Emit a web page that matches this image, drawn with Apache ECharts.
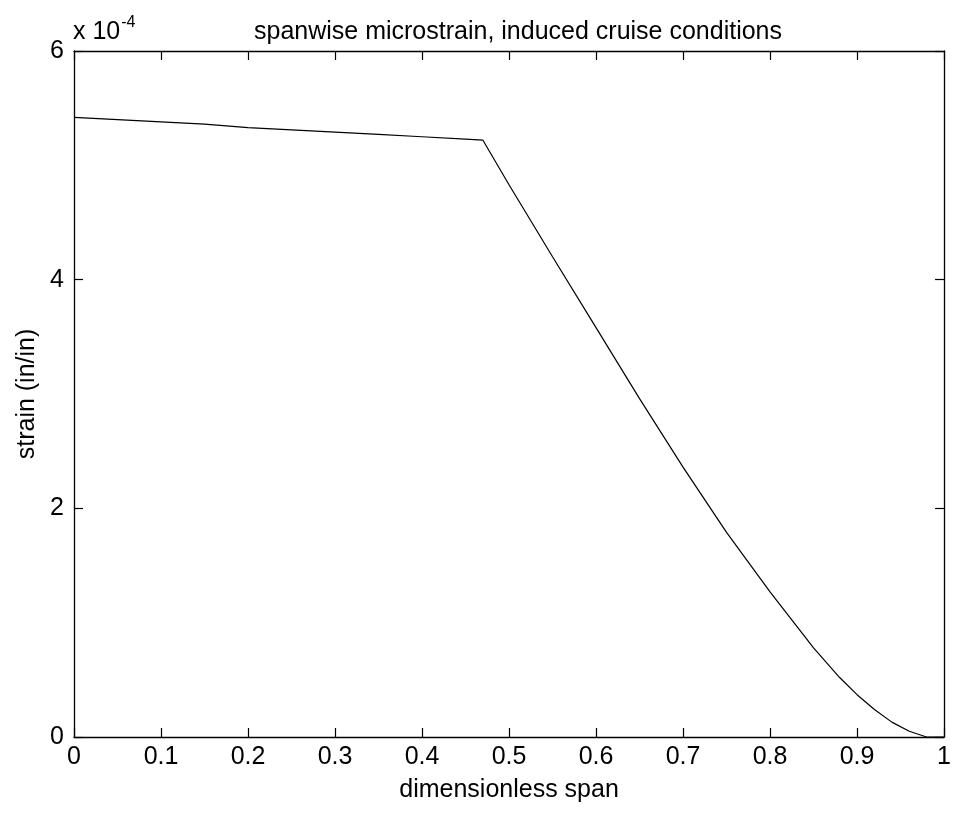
<!DOCTYPE html>
<html>
<head>
<meta charset="utf-8">
<script src="https://cdn.jsdelivr.net/npm/echarts@6/dist/echarts.min.js"></script>
<style>
html,body{margin:0;padding:0;background:#fff;}
#c{width:954px;height:813px;}
</style>
</head>
<body>
<div id="c"></div>
<script>
// dimensionless span positions
var spanX = [0, 0.05, 0.1, 0.15, 0.2, 0.25, 0.3, 0.35, 0.4, 0.45, 0.47, 0.5, 0.55, 0.6, 0.65, 0.7, 0.75, 0.8, 0.85, 0.88, 0.9, 0.92, 0.94, 0.96, 0.98, 1.0];
// strain values in units of 1e-4 in/in
var strainE4 = [5.42, 5.40, 5.38, 5.36, 5.33, 5.31, 5.29, 5.27, 5.25, 5.23, 5.22, 4.83, 4.20, 3.58, 2.96, 2.36, 1.79, 1.27, 0.78, 0.52, 0.37, 0.24, 0.13, 0.05, 0.0, 0.0];
var xTicks = ['0','0.1','0.2','0.3','0.4','0.5','0.6','0.7','0.8','0.9','1'];
var yTicks = ['0','2','4','6'];

var pts = spanX.map(function(x,i){return [x, strainE4[i]];});
var font = 'Liberation Sans, Arial, Helvetica, sans-serif';
var chart = echarts.init(document.getElementById('c'));
var axLine = {show:true, onZero:false, lineStyle:{color:'#000', width:1.3}};
var tick = {show:true, inside:true, length:9, lineStyle:{color:'#000', width:1.2}};
var fs = 25;
chart.setOption({
  animation:false,
  backgroundColor:'#fff',
  title:{text:'spanwise microstrain, induced cruise conditions', left:513, top:15, textAlign:'center',
    textStyle:{fontFamily:font, fontWeight:'normal', fontSize:fs, color:'#000'}},
  grid:{left:74, right:2, top:51, bottom:76},
  graphic:[{type:'text', left:73, top:15, style:{
    text:'{a|x 10}{b|-4}', rich:{a:{fontFamily:font,fontSize:fs,fill:'#000',verticalAlign:'bottom'}, b:{fontFamily:font,fontSize:16,fill:'#000',verticalAlign:'top', padding:[0,0,14,1]}}}}],
  xAxis:[{type:'value', min:0, max:1, interval:0.1, position:'bottom',
    name:'dimensionless span', nameLocation:'middle', nameGap:41,
    nameTextStyle:{fontFamily:font, fontSize:fs, color:'#000'},
    axisLine:axLine, axisTick:tick, splitLine:{show:false},
    axisLabel:{fontFamily:font, fontSize:fs, color:'#000', margin:8,
      formatter:function(v){return xTicks[Math.round(v*10)];}}},
   {type:'value', min:0, max:1, interval:0.1, position:'top', axisLine:axLine, axisTick:tick, axisLabel:{show:false}, splitLine:{show:false}}],
  yAxis:[{type:'value', min:0, max:6, interval:2, position:'left',
    name:'strain (in/in)', nameLocation:'middle', nameGap:34,
    nameTextStyle:{fontFamily:font, fontSize:fs, color:'#000'},
    axisLine:axLine, axisTick:tick, splitLine:{show:false},
    axisLabel:{fontFamily:font, fontSize:fs, color:'#000', margin:10,
      formatter:function(v){return yTicks[Math.round(v/2)];}}},
   {type:'value', min:0, max:6, interval:2, position:'right', axisLine:axLine, axisTick:tick, axisLabel:{show:false}, splitLine:{show:false}}],
  series:[{type:'line', data:pts, showSymbol:false, symbol:'none', xAxisIndex:0, yAxisIndex:0,
    lineStyle:{color:'#000', width:1.2}}]
});
</script>
</body>
</html>
